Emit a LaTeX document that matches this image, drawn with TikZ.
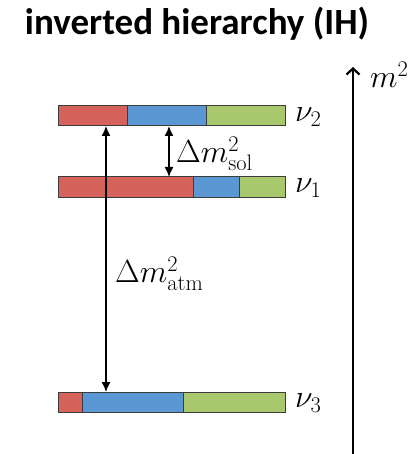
\RequirePackage{fix-cm}
\documentclass[tikz,border=0pt]{standalone}
\usepackage{fontspec}
\newfontfamily\titlefont{Carlito}
\usetikzlibrary{arrows.meta}
\definecolor{barred}{RGB}{214,98,92}
\definecolor{barblue}{RGB}{91,151,210}
\definecolor{bargreen}{RGB}{169,199,108}
\definecolor{barline}{RGB}{60,60,60}
\tikzset{
  seg/.style={draw=barline, line width=1pt},
  gap/.style={line width=1.4pt, {Latex[length=10pt,width=9pt]}-{Latex[length=10pt,width=9pt]}},
  axis/.style={line width=2.6pt, -{Straight Barb[length=6pt,width=13pt,line width=2.2pt]}},
  lbl/.style={font=\fontsize{32}{36}\selectfont, inner sep=0pt, anchor=west}
}
\begin{document}
\begin{tikzpicture}[x=1pt,y=-1pt]
\useasboundingbox (0,0) rectangle (419,454);
\node[font=\titlefont\bfseries\fontsize{37}{42}\selectfont, inner sep=0pt, anchor=base] (title) at (197,35) {inverted hierarchy (IH)};
% nu2
\draw[seg, fill=barred]   (58,106) rectangle (127,126);
\draw[seg, fill=barblue]  (127,106) rectangle (206,126);
\draw[seg, fill=bargreen] (206,106) rectangle (285,126);
% nu1
\draw[seg, fill=barred]   (58,177) rectangle (193,197);
\draw[seg, fill=barblue]  (193,177) rectangle (239,197);
\draw[seg, fill=bargreen] (239,177) rectangle (285,197);
% nu3
\draw[seg, fill=barred]   (58,392) rectangle (82,412);
\draw[seg, fill=barblue]  (82,392) rectangle (183,412);
\draw[seg, fill=bargreen] (183,392) rectangle (285,412);
\node[lbl] (n2) at (295,117) {$\nu_2$};
\node[lbl] (n1) at (295,188) {$\nu_1$};
\node[lbl] (n3) at (295,403) {$\nu_3$};
\coordinate (s2) at (169,126);
\coordinate (s1) at (169,177);
\coordinate (a2) at (106,126);
\coordinate (a3) at (106,392);
\draw[gap] (s2) -- (s1);
\draw[gap] (a2) -- (a3);
\node[lbl] (sol) at (176,154) {$\Delta m^2_{\mathrm{sol}}$};
\node[lbl] (atm) at (115,274) {$\Delta m^2_{\mathrm{atm}}$};
\coordinate (ax0) at (353,454);
\coordinate (ax1) at (353,67);
\draw[axis] (ax0) -- (ax1);
\node[lbl, anchor=base west] (m2) at (370,88) {$m^2$};
\end{tikzpicture}
\end{document}
